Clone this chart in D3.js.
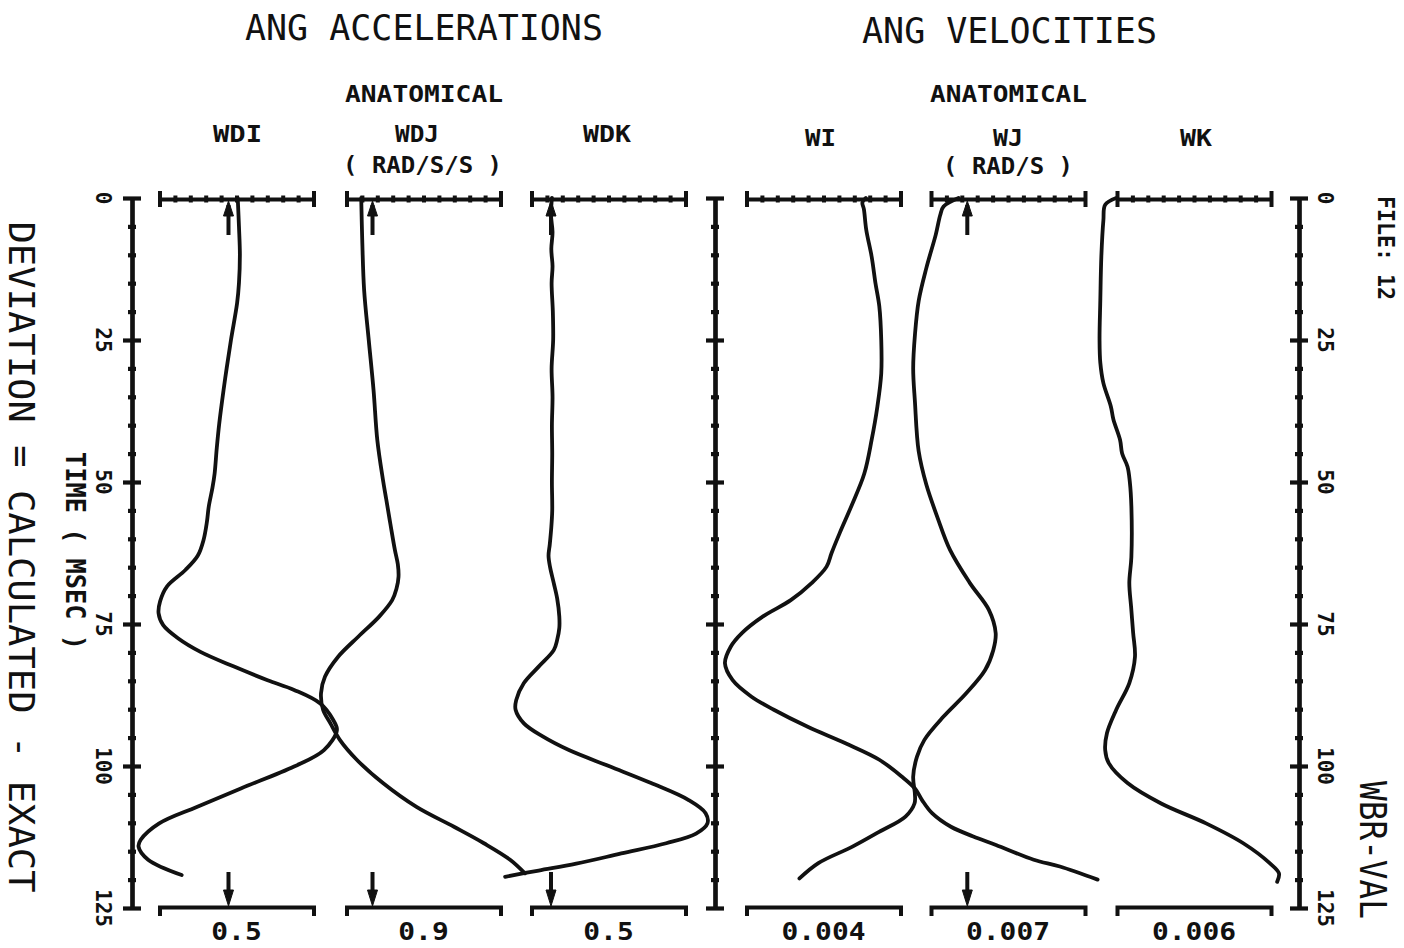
<!DOCTYPE html>
<html>
<head>
<meta charset="utf-8">
<script src="https://cdn.jsdelivr.net/npm/d3@7"></script>
<style>
  body { margin: 0; background: #fff; }
  svg { display: block; }
  text { font-family: "DejaVu Sans Mono", "Liberation Mono", monospace; fill: #111; }
</style>
</head>
<body>
<svg id="chart" width="1404" height="948"></svg>
<script>
// ---- data ----
const timeTicks = [0, 25, 50, 75, 100, 125];
const panelNames = ["WDI", "WDJ", "WDK", "WI", "WJ", "WK"];
const fullScale = [0.5, 0.9, 0.5, 0.004, 0.007, 0.006];      // width of each panel
const scaleLabels = ["0.5", "0.9", "0.5", "0.004", "0.007", "0.006"];
const panelLow = [-0.224, -0.152, -0.0633, 0.002, -0.00165, 0.001];  // value at left edge

// [time (msec), deviation]
const wdi = [[0,0.030],[5,0.034],[10,0.037],[15,0.034],[18.5,0.028],[25,0.008],[30,-0.006],[33.8,-0.016],
  [39.7,-0.030],[44,-0.038],[48.5,-0.045],[51,-0.052],[54.3,-0.064],[57,-0.070],[60.2,-0.081],[63,-0.100],
  [65.5,-0.140],[68.4,-0.200],[71,-0.222],[73.1,-0.227],[75.2,-0.212],[77.5,-0.164],[79.9,-0.091],
  [82.5,0.018],[84.9,0.127],[86.6,0.213],[89,0.298],[91.9,0.340],[93.7,0.352],[97.2,0.310],[100.1,0.213],
  [103.9,0.042],[107.2,-0.103],[110.1,-0.225],[113,-0.285],[114.2,-0.292],[116.5,-0.261],[119.2,-0.152]];
const wdj = [[0,-0.066],[7.4,-0.060],[16.2,-0.049],[25,-0.022],[33.8,0.006],[42.6,0.028],[49.6,0.061],
  [53,0.080],[57.3,0.104],[62,0.131],[64.5,0.148],[66.7,0.152],[68.8,0.140],[70.8,0.115],[73.7,0.039],
  [77.2,-0.082],[80.8,-0.202],[84.3,-0.278],[87.2,-0.301],[90.1,-0.289],[92.5,-0.246],[95.4,-0.191],
  [98.9,-0.092],[103,0.061],[107.2,0.257],[110.7,0.476],[113.6,0.651],[116.5,0.804],[118.9,0.891]];
const wdk = [[0,0.003],[3,0.000],[6,0.005],[9,0.001],[12,0.005],[15,0.002],[20,0.006],[25,0.007],[30,0.002],
  [35,0.005],[40,0.003],[45,0.004],[50,0.003],[55,0.004],[58,0.001],[61,-0.004],[63,-0.008],[65,-0.003],
  [67.8,0.009],[70.5,0.020],[73.7,0.027],[75.7,0.027],[77.8,0.020],[79.6,0.009],[82.5,-0.040],[85.4,-0.088],
  [88.4,-0.113],[90.1,-0.115],[92.5,-0.088],[94.8,-0.027],[97.2,0.058],[100.1,0.192],[103,0.325],[106,0.447],
  [108.3,0.502],[110.1,0.508],[111.9,0.471],[113.6,0.374],[115.4,0.228],[117.2,0.082],[118.4,-0.040],[119.5,-0.149]];
const wi = [[0,0.00510],[0.8,0.00501],[2,0.00505],[5.6,0.00511],[10.3,0.00525],[15,0.00535],[19.1,0.00545],
  [25,0.00550],[30.9,0.00550],[36.7,0.00540],[42.6,0.00525],[48.5,0.00506],[54.3,0.00472],[59,0.00442],
  [62.5,0.00421],[64.9,0.00408],[67.8,0.00369],[70.8,0.00315],[73.7,0.00242],[76.6,0.00188],[79,0.00159],
  [81.9,0.00144],[84.9,0.00164],[87.8,0.00213],[90.1,0.00271],[93.1,0.00359],[96,0.00457],[98.9,0.00545],
  [101.9,0.00604],[104,0.00638],[106,0.00656],[108.3,0.00682],[110.7,0.00731],[112.4,0.00789],[113.9,0.00848],
  [116.5,0.00946],[117.7,0.01014],[120,0.01112]];
const wj = [[0,-0.00040],[1.5,-0.00108],[3,-0.00123],[6.4,-0.00143],[12.3,-0.00186],[18.1,-0.00221],
  [24.1,-0.00238],[30,-0.00246],[35.9,-0.00238],[44.6,-0.00221],[50.5,-0.00186],[56.3,-0.00135],[62,-0.00078],
  [67.8,0.00012],[72.5,0.00098],[76.6,0.00129],[79.6,0.00118],[83.1,0.00081],[87.2,-0.00005],[91.3,-0.00108],
  [95.4,-0.00195],[98.4,-0.00229],[101.9,-0.00246],[105,-0.00238],[106.6,-0.00240],[108.9,-0.00281],
  [111.6,-0.00401],[114.2,-0.00522],[117.1,-0.00677],[119.8,-0.00763]];
const wk = [[0,0.00097],[1.2,0.00054],[3.9,0.00047],[10.3,0.00039],[18,0.00035],[25,0.00032],[29,0.00035],
  [32.6,0.00047],[36.7,0.00076],[39,0.00086],[42.6,0.00112],[45,0.00120],[47.3,0.00141],[50,0.00150],
  [54.3,0.00156],[63.2,0.00156],[67.8,0.00148],[72,0.00155],[76.6,0.00163],[80.8,0.00170],[85.4,0.00148],
  [90.1,0.00097],[94.2,0.00061],[97.2,0.00054],[99.5,0.00068],[103,0.00141],[106.6,0.00272],[110.1,0.00447],
  [113.6,0.00592],[117.1,0.00695],[118.9,0.00731],[120.4,0.00724]];
const curves = [wdi, wdj, wdk, wi, wj, wk];

// ---- layout ----
const ink = "#111";
const svg = d3.select("#chart");
const panelX = [159.5, 346.5, 531.5, 746.5, 931, 1117];
const panelW = 154;
const axisX = [132, 715, 1299];

const y = d3.scaleLinear().domain([0, 125]).range([198, 908]);

// vertical time axes
axisX.forEach(ax => {
    let g = svg.append("g").attr("transform", `translate(${ax},0)`);
    g.call(d3.axisLeft(y).tickValues(d3.range(5, 125, 5).filter(d => d % 25 != 0))
        .tickSize(4).tickSizeOuter(0).tickFormat(""));
    g.selectAll(".tick line").attr("x1", -4).attr("x2", 4);
    let g2 = svg.append("g").attr("transform", `translate(${ax},0)`);
    g2.call(d3.axisLeft(y).tickValues(timeTicks).tickSize(9).tickSizeOuter(0).tickFormat(""));
    g2.selectAll(".tick line").attr("x1", -9).attr("x2", 9);
    [g, g2].forEach(gg => {
        gg.selectAll("path, line").attr("stroke", ink).attr("stroke-width", 4.2);
    });
});

// time tick labels (rotated like the rest of the page)
[axisX[0] - 36, axisX[2] + 19].forEach(lx => {
    svg.append("g").selectAll("text").data(timeTicks).join("text")
        .attr("transform", d => `translate(${lx},${y(d)}) rotate(90)`)
        .attr("text-anchor", "middle")
        .attr("font-size", 21).attr("font-weight", "bold")
        .text(d => d);
});

// panels
const line = d3.line().curve(d3.curveCatmullRom.alpha(0.5));
panelNames.forEach((name, i) => {
    let x = d3.scaleLinear().domain([panelLow[i], panelLow[i] + fullScale[i]])
        .range([panelX[i], panelX[i] + panelW]);
    let ticks = d3.range(11).map(k => panelLow[i] + fullScale[i] * k / 10);

    // top scale with tick marks
    let top = svg.append("g").attr("transform", "translate(0,199)");
    top.call(d3.axisTop(x).tickValues(ticks).tickSize(3).tickSizeOuter(0).tickFormat(""));
    top.selectAll(".tick line")
        .attr("y1", (d, k) => (k == 0 || k == 10) ? -8 : -3.5)
        .attr("y2", (d, k) => (k == 0 || k == 10) ? 8 : 3.5);
    top.selectAll("path, line").attr("stroke", ink).attr("stroke-width", 4);

    // bottom bracket = full scale
    let bot = svg.append("g").attr("transform", "translate(0,907)");
    bot.call(d3.axisBottom(x).tickValues([]).tickSizeOuter(9));
    bot.select("path").attr("stroke", ink).attr("stroke-width", 4).attr("fill", "none");
    svg.append("text")
        .attr("x", panelX[i] + panelW / 2).attr("y", 940)
        .attr("text-anchor", "middle").attr("font-size", 25).attr("font-weight", "bold")
        .attr("textLength", scaleLabels[i].length * 16.8).attr("lengthAdjust", "spacingAndGlyphs")
        .text(scaleLabels[i]);

    // zero arrows where zero falls inside the panel
    let lo = panelLow[i], hi = panelLow[i] + fullScale[i];
    if (lo < 0 && hi > 0) {
        let x0 = x(0);
        let ar = svg.append("g").attr("stroke", ink).attr("fill", ink);
        ar.append("line").attr("x1", x0).attr("x2", x0).attr("y1", 205).attr("y2", 235).attr("stroke-width", 4);
        ar.append("path").attr("d", `M${x0},201 L${x0 - 5},216 L${x0 + 5},216 Z`);
        ar.append("line").attr("x1", x0).attr("x2", x0).attr("y1", 872).attr("y2", 900).attr("stroke-width", 4);
        ar.append("path").attr("d", `M${x0},906 L${x0 - 5},890 L${x0 + 5},890 Z`);
    }

    // the deviation curve
    svg.append("path")
        .attr("d", line(curves[i].map(d => [x(d[1]), y(d[0])])))
        .attr("fill", "none").attr("stroke", ink).attr("stroke-width", 3.8)
        .attr("stroke-linejoin", "round").attr("stroke-linecap", "round");
});

// ---- text ----
function hText(x, yb, str, size, weight, len) {
    svg.append("text").attr("x", x).attr("y", yb)
        .attr("font-size", size).attr("font-weight", weight)
        .attr("textLength", len).attr("lengthAdjust", "spacingAndGlyphs")
        .text(str);
}
function vText(xb, yc, str, size, weight, len) {
    svg.append("text").attr("transform", `translate(${xb},${yc}) rotate(90)`)
        .attr("text-anchor", "middle")
        .attr("font-size", size).attr("font-weight", weight)
        .attr("textLength", len).attr("lengthAdjust", "spacingAndGlyphs")
        .text(str);
}

hText(245, 40, "ANG ACCELERATIONS", 36, "normal", 358);
hText(862, 43, "ANG VELOCITIES", 36, "normal", 295);
hText(345, 102, "ANATOMICAL", 23, "bold", 158);
hText(930, 102, "ANATOMICAL", 23, "bold", 157);
hText(213, 142, "WDI", 23, "bold", 49);
hText(395, 142, "WDJ", 23, "bold", 44);
hText(583, 142, "WDK", 23, "bold", 48);
hText(343, 173, "( RAD/S/S )", 23, "bold", 159);
hText(805, 146, "WI", 23, "bold", 31);
hText(993, 146, "WJ", 23, "bold", 30);
hText(1180, 146, "WK", 23, "bold", 32);
hText(943, 174, "( RAD/S )", 23, "bold", 130);

vText(9, 557, "DEVIATION = CALCULATED - EXACT", 36, "normal", 671);
vText(66, 551, "TIME  ( MSEC )", 26, "bold", 198);
vText(1378, 248, "FILE: 12", 23, "bold", 104);
vText(1360, 850, "WBR-VAL", 37, "normal", 138);
</script>
</body>
</html>
